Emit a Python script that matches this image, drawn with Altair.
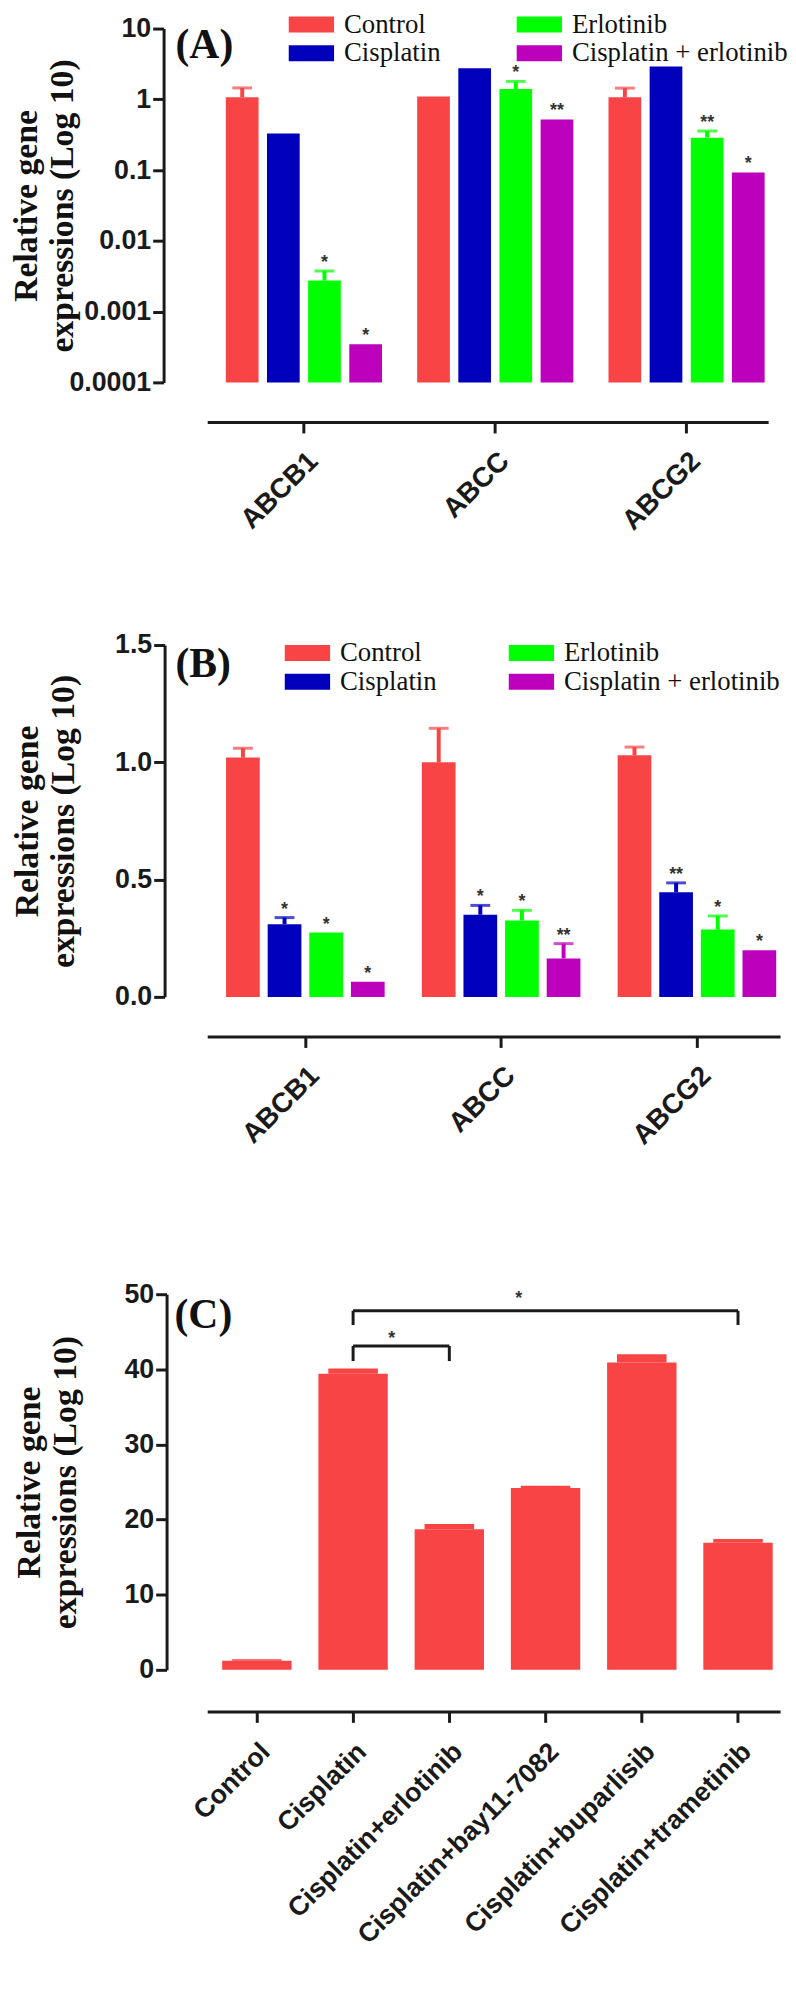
import altair as alt
import pandas as pd

# ---------------- data ----------------
genes = ["ABCB1", "ABCC", "ABCG2"]
treatments = ["Control", "Cisplatin", "Erlotinib", "Cisplatin + erlotinib"]
treatment_colors = ["#F84444", "#0000BC", "#00FF00", "#BC00BC"]

# (A) log scale
a_control = [1.07, 1.10, 1.07]
a_control_sem = [0.38, 0.0, 0.37]
a_cisplatin = [0.33, 2.75, 2.90]
a_cisplatin_sem = [0.0, 0.0, 0.0]
a_erlotinib = [0.00275, 1.40, 0.287]
a_erlotinib_sem = [0.001, 0.39, 0.069]
a_combo = [0.000347, 0.52, 0.0927]
a_combo_sem = [0.0, 0.0, 0.0]
a_control_sig = ["", "", ""]
a_cisplatin_sig = ["", "", ""]
a_erlotinib_sig = ["*", "*", "**"]
a_combo_sig = ["*", "**", "*"]

# (B) linear scale
b_control = [1.02, 1.00, 1.03]
b_control_sem = [0.04, 0.145, 0.035]
b_cisplatin = [0.31, 0.35, 0.446]
b_cisplatin_sem = [0.028, 0.04, 0.04]
b_erlotinib = [0.274, 0.326, 0.287]
b_erlotinib_sem = [0.0, 0.043, 0.058]
b_combo = [0.065, 0.164, 0.199]
b_combo_sem = [0.0, 0.063, 0.0]
b_control_sig = ["", "", ""]
b_cisplatin_sig = ["*", "*", "**"]
b_erlotinib_sig = ["*", "*", "*"]
b_combo_sig = ["*", "**", "*"]

# (C)
c_groups = ["Control", "Cisplatin", "Cisplatin+erlotinib", "Cisplatin+bay11-7082",
            "Cisplatin+buparlisib", "Cisplatin+trametinib"]
c_mean = [1.2, 39.4, 18.7, 24.2, 40.9, 16.9]
c_sem = [0.2, 0.7, 0.7, 0.3, 1.1, 0.5]
bracket_from = ["Cisplatin", "Cisplatin"]
bracket_to = ["Cisplatin+erlotinib", "Cisplatin+trametinib"]
bracket_level = [43.1, 47.8]
bracket_leg = [41.1, 45.9]
bracket_sig = ["*", "*"]

# ---------------- styling helpers ----------------
SANS = "Liberation Sans"
SERIF = "Liberation Serif"
INK = "#1a1a1a"
RED = "#F84444"


def long_table(means, sems, sigs):
    rows = []
    for t, ml, sl, gl in zip(treatments, means, sems, sigs):
        for gene, m, s, g in zip(genes, ml, sl, gl):
            rows.append({"gene": gene, "treatment": t, "mean": m, "upper": m + s,
                         "has_err": bool(s > 0), "sig": g})
    return pd.DataFrame(rows)


def y_axis(values, fmt, offset, height):
    return alt.Axis(values=values, format=fmt, offset=offset, grid=False, labelOverlap=False,
                    title=["Relative gene", "expressions (Log 10)"],
                    titleFont=SERIF, titleFontSize=34, titleFontWeight="bold", titleColor="#111",
                    titleAngle=270, titleAlign="center", titleBaseline="alphabetic",
                    titleX=-128, titleY=height / 2, titleLineHeight=36,
                    labelFont=SANS, labelFontWeight="bold", labelFontSize=27, labelColor=INK,
                    labelPadding=2, domainColor=INK, domainWidth=3, tickColor=INK,
                    tickWidth=3, tickSize=11)


def x_axis(offset, size, pad):
    return alt.Axis(title=None, offset=offset, labelAngle=315, labelAlign="right",
                    labelBaseline="top", labelPadding=pad, labelFont=SANS,
                    labelFontWeight="bold", labelFontSize=size, labelColor=INK,
                    labelOverlap=False, labelLimit=500, domainColor=INK, domainWidth=3,
                    tickColor=INK, tickWidth=3, tickSize=11, grid=False)


def panel_title(text, dx, dy):
    return alt.TitleParams(text, anchor="start", frame="group", orient="none", offset=0,
                           dx=dx, dy=dy, baseline="alphabetic", align="left", font=SERIF,
                           fontSize=42, fontWeight="bold", color="#111")


def grouped_panel(df, y_scale, values, fmt, width, height, y_off, x_off, x_pad,
                  band_pad, band_outer, band_align, sub_pad,
                  leg_x, leg_y, col_pad, label, label_dy, log_base=None):
    xs = alt.Scale(domain=genes, paddingInner=band_pad, paddingOuter=band_outer,
                   align=band_align)
    xa = x_axis(x_off, 28, x_pad)
    ya = y_axis(values, fmt, y_off, height)
    x_enc = alt.X("gene:N", scale=xs, axis=xa)
    xo = alt.XOffset("treatment:N", scale=alt.Scale(domain=treatments, paddingInner=sub_pad,
                                                     paddingOuter=0))
    cs = alt.Scale(domain=treatments, range=treatment_colors)
    leg = alt.Legend(title=None, orient="none", legendX=leg_x, legendY=leg_y, columns=2,
                     padding=0, symbolType="M-1,-0.35H1V0.35H-1Z", symbolSize=2116,
                     symbolStrokeWidth=0, symbolOpacity=1, labelFont=SERIF,
                     labelFontSize=27, labelColor="#111", labelOffset=10, labelLimit=500,
                     columnPadding=col_pad, rowPadding=1, clipHeight=28)
    color_leg = alt.Color("treatment:N", scale=cs, legend=leg)
    base = alt.Chart(df)
    enc = dict(x=x_enc, xOffset=xo, y=alt.Y("mean:Q", scale=y_scale, axis=ya), color=color_leg)
    if log_base is not None:
        enc["y2"] = alt.datum(log_base)
    bars = base.mark_bar().encode(**enc)
    stems = base.transform_filter("datum.has_err").mark_rule(strokeWidth=4).encode(
        x=x_enc, xOffset=xo, y=alt.Y("mean:Q", scale=y_scale, axis=ya),
        y2=alt.Y2("upper"), color=color_leg)
    caps = base.transform_filter("datum.has_err").mark_tick(thickness=3, size=20).encode(
        x=x_enc, xOffset=xo, y=alt.Y("upper:Q", scale=y_scale, axis=ya), color=color_leg)
    stars = base.transform_filter("datum.sig != ''").mark_text(
        font=SANS, fontSize=18, fontWeight="bold", color="#333", baseline="middle", dy=-8
    ).encode(x=x_enc, xOffset=xo, y=alt.Y("upper:Q", scale=y_scale, axis=ya),
             text="sig:N")
    return alt.layer(bars, stems, caps, stars).properties(
        width=width, height=height, title=panel_title(label, -32, label_dy))


# ---------------- panel A ----------------
df_a = long_table([a_control, a_cisplatin, a_erlotinib, a_combo],
                  [a_control_sem, a_cisplatin_sem, a_erlotinib_sem, a_combo_sem],
                  [a_control_sig, a_cisplatin_sig, a_erlotinib_sig, a_combo_sig])
panel_a = grouped_panel(df_a, alt.Scale(type="log", domain=[0.0001, 10], nice=False),
                        [0.0001, 0.001, 0.01, 0.1, 1, 10], "~g", 566, 357, 44, 40, 14,
                        0.184, 0.058, 0.84, 0.205,
                        82, -18, 76, "(A)", 30, log_base=0.0001)

# ---------------- panel B ----------------
df_b = long_table([b_control, b_cisplatin, b_erlotinib, b_combo],
                  [b_control_sem, b_cisplatin_sem, b_erlotinib_sem, b_combo_sem],
                  [b_control_sig, b_cisplatin_sig, b_erlotinib_sig, b_combo_sig])
panel_b = grouped_panel(df_b, alt.Scale(domain=[0, 1.5], nice=False),
                        [0, 0.5, 1.0, 1.5], ".1f", 578, 355, 43, 40, 14,
                        0.19, 0.058, 0.83, 0.19,
                        78, -6, 72, "(B)", 32)

# ---------------- panel C ----------------
c_df = pd.DataFrame({"group": c_groups, "mean": c_mean,
                     "upper": [m + s for m, s in zip(c_mean, c_sem)]})
br_df = pd.DataFrame({"from": bracket_from, "to": bracket_to, "level": bracket_level,
                      "sig": bracket_sig})
legs_df = pd.DataFrame({"cat": bracket_from + bracket_to, "level": bracket_level * 2,
                        "leg": bracket_leg * 2})
cxs = alt.Scale(domain=c_groups, paddingInner=0.279, paddingOuter=0.116, align=0.67)
cys = alt.Scale(domain=[0, 50], nice=False)
c_height = 379
cxa = x_axis(42, 27, 16)
cya = y_axis([0, 10, 20, 30, 40, 50], "d", 41, c_height)

bars_c = alt.Chart(c_df).mark_bar(color=RED).encode(
    x=alt.X("group:N", scale=cxs, axis=cxa), y=alt.Y("mean:Q", scale=cys, axis=cya))
hats_c = alt.Chart(c_df).mark_bar(color=RED, size=50).encode(
    x=alt.X("group:N", scale=cxs, axis=cxa),
    y=alt.Y("mean:Q", scale=cys, axis=cya), y2=alt.Y2("upper"))
bridge = alt.Chart(br_df).mark_rule(strokeWidth=3, color=INK).encode(
    x=alt.X("from:N", scale=cxs, axis=cxa), x2=alt.X2("to"),
    y=alt.Y("level:Q", scale=cys, axis=cya))
legs = alt.Chart(legs_df).mark_rule(strokeWidth=3, color=INK).encode(
    x=alt.X("cat:N", scale=cxs, axis=cxa),
    y=alt.Y("level:Q", scale=cys, axis=cya), y2=alt.Y2("leg"))
star1 = alt.Chart(br_df.iloc[[0]]).mark_text(
    font=SANS, fontSize=18, fontWeight="bold", color="#333", baseline="middle", dx=39, dy=-7
).encode(x=alt.X("from:N", scale=cxs, axis=cxa), y=alt.Y("level:Q", scale=cys, axis=cya),
         text="sig:N")
star2 = alt.Chart(br_df.iloc[[1]]).mark_text(
    font=SANS, fontSize=18, fontWeight="bold", color="#333", baseline="middle", dx=167, dy=-12
).encode(x=alt.X("from:N", scale=cxs, axis=cxa), y=alt.Y("level:Q", scale=cys, axis=cya),
         text="sig:N")
panel_c = alt.layer(bars_c, hats_c, bridge, legs, star1, star2).properties(
    width=578, height=c_height, title=panel_title("(C)", -33, 34))

# ---------------- layout ----------------
res = dict(x="independent", y="independent", color="independent", xOffset="independent")
lower = alt.vconcat(panel_b, panel_c, spacing=300, bounds="flush").resolve_scale(**res)
chart = alt.vconcat(panel_a, lower, spacing=265, bounds="flush",
                    padding={"top": -6, "left": 2, "right": 0, "bottom": 0}).resolve_scale(
    **res).configure_view(stroke=None)

chart.save("out.html", embed_options={"renderer": "svg", "actions": False})
